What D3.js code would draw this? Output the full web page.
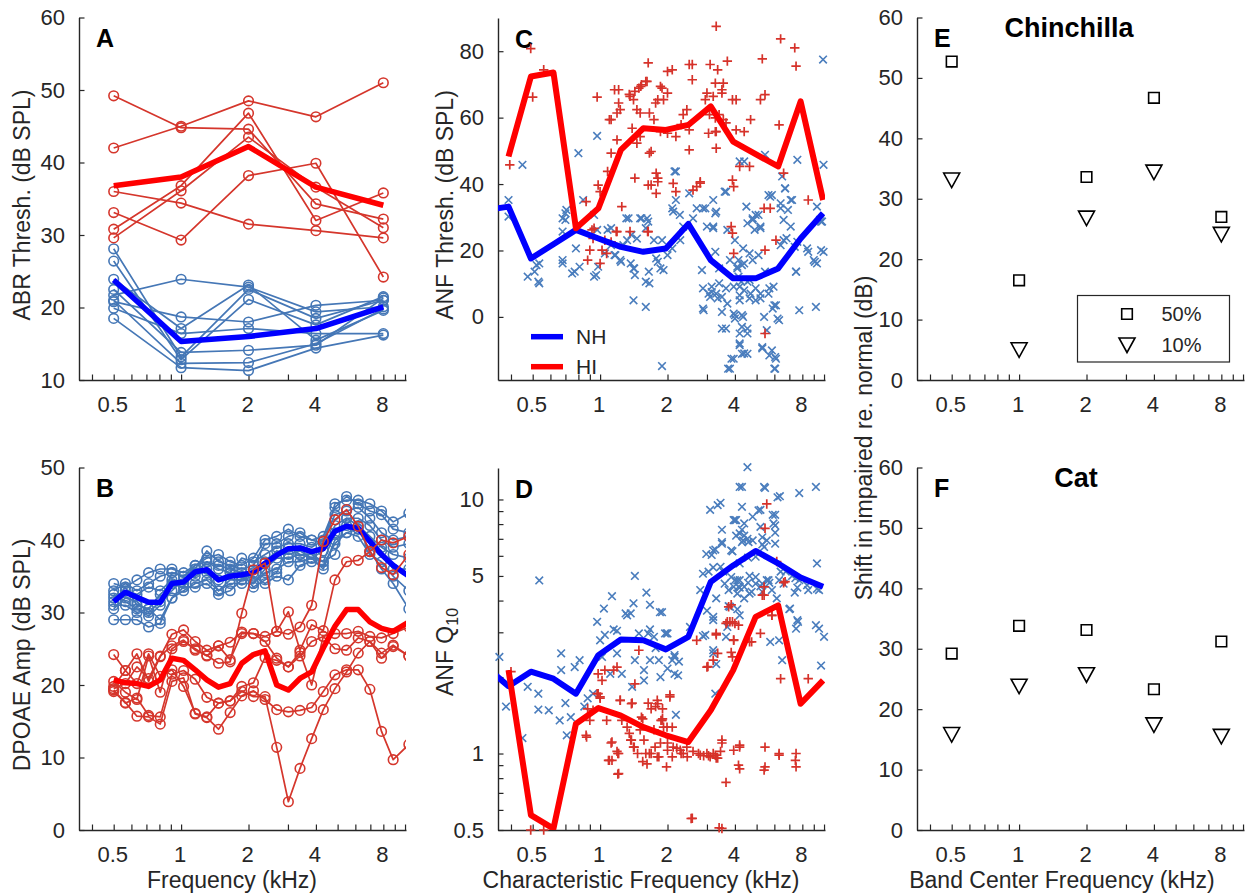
<!DOCTYPE html>
<html><head><meta charset="utf-8">
<script src="https://cdn.jsdelivr.net/npm/d3@7"></script>
<style>
body{margin:0;background:#fff;}
svg{display:block;font-family:"Liberation Sans",Arial,Helvetica,sans-serif;}
</style></head><body>
<svg id="chart" width="1249" height="895"></svg>
<script>
// ---------------- DATA ----------------
const xTickValues = [0.5, 1, 2, 4, 8];
const xMinorTicks = [0.4, 0.6, 0.7, 0.8, 0.9, 3, 5, 6, 7, 9, 10];

// Panel A : ABR thresholds (dB SPL) at 0.5,1,2,4,8 kHz
const abrFreqs = [0.5, 1, 2, 4, 8];
const abrHI = [
  [42.0, 45.0, 48.5, 46.3, 51.0],
  [49.2, 44.8, 44.6, 34.3, 32.2],
  [36.0, 34.4, 31.5, 30.6, 29.6],
  [33.1, 29.3, 38.2, 39.9, 24.2],
  [30.8, 36.8, 46.8, 32.0, 35.8],
  [29.6, 36.1, 43.5, 36.6, 31.0]
];
const abrNH = [
  [28.1, 13.2, 22.5, 18.5, 21.0],
  [26.4, 12.8, 21.1, 17.6, 21.5],
  [23.9, 17.1, 23.1, 15.5, 19.6],
  [21.7, 23.9, 22.8, 19.4, 20.1],
  [20.8, 18.7, 18.0, 20.3, 21.0],
  [19.9, 16.4, 17.1, 16.4, 16.4],
  [18.5, 11.7, 11.3, 14.4, 16.2],
  [22.5, 13.8, 14.1, 14.8, 21.3],
  [21.0, 12.3, 12.4, 15.0, 19.8]
];
const abrHImean = [36.8, 38.0, 42.2, 36.6, 34.1];
const abrNHmean = [23.8, 15.3, 16.0, 17.1, 20.1];

// Panel B : DPOAE amplitude (dB SPL)
const dpFreqs = [0.5, 0.564, 0.635, 0.716, 0.807, 0.910, 1.026, 1.156, 1.303, 1.469, 1.656, 1.866, 2.104,
                 2.371, 2.673, 3.013, 3.396, 3.828, 4.315, 4.864, 5.483, 6.180, 6.966, 7.852, 8.851, 10.4];
const dpNH = [
  [34.0,33.5,34.5,35.5,36.0,36.0,35.5,36.5,37.5,38.0,37.0,36.5,37.5,40.0,40.5,41.5,40.5,40.0,39.5,45.0,45.5,45.5,45.0,44.0,42.5,43.7],
  [33.0,34.0,33.0,34.0,35.0,35.5,35.0,36.0,38.5,37.0,36.5,36.0,36.5,39.5,39.5,40.5,41.0,40.0,40.5,44.5,46.0,45.0,44.0,43.5,41.5,41.0],
  [32.0,33.0,32.5,33.5,33.0,34.5,34.0,35.5,37.0,36.0,35.5,37.5,37.0,38.0,39.0,39.5,39.5,39.0,40.0,43.5,44.0,44.5,43.0,41.0,40.0,40.5],
  [31.5,33.5,31.0,30.5,32.5,34.0,33.5,36.0,35.5,33.0,34.5,34.5,35.5,37.0,38.5,38.0,38.5,37.5,38.5,42.0,43.0,42.0,40.5,39.0,38.0,37.5],
  [30.5,32.0,31.5,30.0,31.5,33.0,34.5,35.0,36.0,34.5,35.5,35.0,34.0,36.0,37.5,37.5,38.0,38.0,37.0,41.0,42.0,41.5,39.5,38.5,36.0,36.0],
  [31.0,31.0,30.0,30.5,29.0,32.0,33.0,34.0,34.5,33.0,34.0,34.0,34.0,35.5,36.0,37.0,37.0,37.5,36.0,40.0,41.0,40.5,38.0,37.0,35.0,33.0],
  [29.0,29.0,29.0,28.0,28.5,32.0,33.5,33.5,34.0,32.5,33.0,34.5,35.0,34.0,35.0,34.5,36.5,37.0,36.5,39.5,41.0,41.5,38.5,36.0,34.0,30.5],
  [32.5,31.5,30.5,29.5,31.0,35.5,35.0,36.5,37.0,36.5,36.0,35.5,33.5,34.5,35.5,39.0,38.0,37.5,37.0,38.0,43.0,43.0,42.0,40.0,39.0,39.5]
];
const dpHI = [
  [24.2,22.0,24.3,20.5,23.9,27.0,27.6,26.0,24.8,25.4,25.9,27.3,27.1,26.7,27.4,27.0,28.0,31.0,39.8,42.8,44.2,41.9,38.4,40.0,39.6,40.5],
  [19.5,20.2,22.5,20.9,24.0,25.4,26.2,24.8,24.1,23.0,23.2,29.9,35.9,36.8,27.4,30.1,24.8,28.3,27.5,34.5,37.0,37.2,38.4,36.2,35.2,38.0],
  [19.3,17.5,18.2,15.8,15.6,21.5,22.0,20.8,18.3,17.5,17.8,19.8,20.3,23.8,23.4,22.5,24.0,26.0,26.7,27.1,27.1,27.4,26.7,26.5,27.1,28.0],
  [20.5,19.0,18.0,24.0,19.0,25.0,26.0,25.0,24.0,25.4,23.5,27.1,27.1,26.0,23.7,22.5,24.5,20.0,26.7,25.0,24.8,26.5,26.0,24.4,25.5,24.0],
  [19.1,17.6,15.7,15.6,14.6,20.5,21.0,16.0,15.5,13.9,16.2,18.5,19.2,18.0,16.6,16.3,16.5,16.9,19.1,21.4,22.1,22.1,19.4,13.6,9.7,11.8],
  [19.8,22.0,20.2,24.3,21.2,22.1,19.8,16.1,15.6,17.5,17.8,19.1,18.4,18.4,11.4,3.9,8.5,12.6,16.6,19.5,21.8,24.4,26.0,23.7,25.3,24.0]
];
const dpNHmean = [31.5,32.8,32.1,31.4,31.4,34.0,34.2,35.6,35.9,34.5,35.0,35.2,35.5,36.8,37.9,38.8,38.9,38.4,38.8,41.2,41.9,41.6,39.8,38.0,36.5,35.0];
const dpHImean = [20.7,20.3,20.2,19.8,20.7,23.7,23.4,22.1,20.7,19.7,20.2,23.0,24.2,24.7,20.0,19.3,20.9,21.8,25.1,28.1,30.4,30.4,28.7,27.8,27.4,28.7];

// Panel C : ANF thresholds [CF kHz, dB SPL]
const anfThrNH = [[0.39,35.2],[0.39,30.2],[0.45,45.8],[0.475,12.1],[0.51,13.6],[0.52,15.6],[0.535,16.1],[0.535,10.1],[0.8,49.3],[0.7,31.2],[0.7,29.2],[0.68,25.7],[0.68,17.1],[0.68,16.1],[0.75,13.1],[0.81,15.1],[0.84,35.2],[0.78,20.6],[0.97,54.5],[0.97,26.2],[0.94,12.1],[0.98,15.1],[1.05,19.1],[1.08,26.2],[1.12,21.6],[1.17,18.6],[1.23,17.1],[1.27,21.6],[1.34,29.7],[1.32,23.1],[1.37,16.1],[1.41,14.6],[1.43,12.6],[1.41,5.0],[1.46,23.6],[1.51,29.7],[1.6,3.0],[1.62,29.7],[1.64,28.7],[1.66,10.1],[1.74,23.1],[1.78,17.6],[1.86,14.6],[1.89,23.1],[1.92,14.1],[2.0,18.6],[2.1,20.6],[2.12,31.7],[2.18,35.2],[2.18,43.8],[2.28,23.1],[2.35,27.2],[2.5,37.2],[1.89,-14.8],[2.85,14.1],[2.9,2.0],[2.95,32.7],[3.0,27.2],[3.05,7.0],[3.15,9.1],[3.2,35.2],[3.27,31.2],[3.2,27.2],[3.27,19.6],[3.3,7.0],[3.5,6.0],[3.5,1.5],[3.65,37.7],[3.7,26.2],[3.7,4.0],[3.65,-3.5],[3.8,17.1],[3.95,9.1],[3.95,1.0],[4.0,-0.5],[4.0,23.1],[3.95,-12.6],[3.8,-15.6],[4.15,12.1],[4.2,9.1],[4.2,5.0],[4.3,0.5],[4.3,-3.0],[4.2,-8.0],[4.3,-11.1],[4.4,8.0],[4.4,16.1],[4.35,20.6],[4.4,46.8],[4.5,33.2],[4.55,-5.0],[4.55,-11.1],[4.65,19.1],[4.7,7.0],[4.8,29.2],[4.9,26.2],[4.95,30.7],[5.1,18.6],[5.2,27.2],[5.2,7.0],[5.3,-9.1],[5.4,0],[5.45,48.8],[5.45,13.6],[5.65,36.7],[5.75,36.2],[5.65,7.0],[5.85,-10.1],[5.95,9.1],[6.05,-12.1],[6.1,3.5],[6.3,-1.0],[6.05,-15.6],[6.4,34.2],[6.5,42.3],[6.6,29.2],[6.6,23.1],[6.7,38.7],[6.9,32.2],[7.2,35.2],[7.1,27.2],[7.4,21.1],[7.5,13.6],[7.6,47.3],[7.75,2.0],[8.5,19.6],[9.0,17.1],[9.2,3.0],[9.3,16.1],[9.6,29.2],[9.7,20.1],[9.9,77.5],[9.95,45.8],[9.7,28.7],[9.3,33.2],[4.1,15.1],[4.15,17.1],[4.8,17.1],[4.65,11.1],[4.95,5.0],[3.1,6.0],[3.4,10.1],[5.55,-4.0],[4.35,0],[4.2,-5.0],
  [0.707,32.2],[0.68,29.7],[0.77,13.6],[0.53,10.6],[0.94,30.7],[1.12,26.7],[1.31,29.7],[1.53,29.7],[1.6,26.7],[1.38,24.7],[1.16,18.6],[1.24,16.6],[1.42,14.6],[1.6,10.6],[1.65,13.6],[1.81,16.6],[0.96,12.6],
  [2.88,2.5],[3.5,-3.5],[3.86,-12.6],[3.73,-15.6],[4.2,-8.5],[4.4,-11],[4.55,-3.5],[5.3,-9.5],[5.7,-11.6],[6.0,-15.6],[6.1,-12.6],[6.2,-0.5],[6.0,3.5],[2.88,8.6],[3.15,7.5],[3.35,5.6],[3.65,8.6],[4.0,0.5],[4.2,6.5],[4.27,10.6],[4.55,10.6],[4.65,5.6],[4.95,8.6],[5.2,5.6],[5.7,8.6],[5.9,2.5],[3.4,14.6],[4.1,14.6],[4.3,15.6],[3.3,31.7],[3.2,26.7],[2.88,32.7],[2.7,32.7],[2.6,29.7],[2.27,30.7],[2.1,32.7],[2.15,43.8],[3.6,37.7],[4.2,46.8],[4.55,28.2],[4.8,29.7],[5.2,26.7],[5.1,30.7],[5.85,36.7],[6.4,32.7],[6.7,38.7],[7.1,35.2],[8.4,20.6],[9.1,16.6],[9.95,19.6],[9.8,28.7],[7.5,13.6],[6.4,21.6],[6.8,23.7],[7.6,22.6]];
const anfThrHI = [[0.49,80.8],[0.56,74.4],[0.5,66.2],[0.395,45.8],[0.97,66.2],[0.866,34.7],[0.98,39.7],[1.0,37.7],[0.92,26.2],[0.93,23.6],[0.9,20.1],[0.88,17.1],[1.0,16.1],[1.02,20.1],[1.05,23.1],[1.07,19.1],[1.12,22.6],[1.18,25.7],[1.25,33.2],[1.36,25.7],[1.64,25.7],[1.08,43.8],[1.12,49.3],[1.12,59.4],[1.19,53.3],[1.19,61.4],[1.21,64.4],[1.21,68.4],[1.23,62.4],[1.36,66.4],[1.39,56.8],[1.41,65.4],[1.43,67.9],[1.46,62.4],[1.49,68.9],[1.51,61.4],[1.53,69.9],[1.62,70.9],[1.64,76.5],[1.66,61.4],[1.51,54.3],[1.46,52.3],[1.43,41.8],[1.66,49.3],[1.74,59.4],[1.77,64.4],[1.92,65.4],[1.89,68.9],[2.0,73.9],[2.1,74.4],[2.0,67.4],[1.86,55.8],[2.0,55.3],[2.18,54.3],[2.12,40.2],[1.78,43.3],[1.81,40.7],[1.78,37.2],[1.64,39.7],[2.18,37.7],[2.44,62.4],[2.35,60.9],[2.5,56.3],[2.5,50.3],[2.58,76.0],[2.58,71.4],[2.7,39.2],[2.8,40.7],[3.1,76.0],[3.0,67.4],[2.95,65.4],[3.2,66.4],[3.27,70.4],[3.3,87.5],[3.35,74.4],[3.55,70.4],[3.5,68.4],[3.7,77.0],[3.05,55.3],[3.27,55.8],[3.3,50.8],[3.27,59.9],[3.9,65.4],[4.05,65.4],[3.55,59.4],[4.05,56.3],[4.4,55.8],[4.7,59.4],[4.2,45.3],[4.65,45.3],[3.9,41.2],[3.95,39.2],[3.85,27.2],[3.9,25.2],[3.95,19.1],[5.2,65.4],[5.45,66.9],[5.3,77.7],[6.4,83.7],[6.3,57.8],[6.6,43.3],[5.4,32.7],[5.75,32.7],[5.45,20.1],[6.1,23.1],[5.45,-5.0],[7.4,81.0],[7.5,75.5],[8.5,35.2],
  [1.1,59.4],[1.16,68.4],[1.35,67.0],[1.52,69.4],[1.6,70.9],[1.81,65.4],[1.86,69.4],[1.69,49.8],[1.69,39.7],[1.81,41.8],[0.94,26.7],[2.5,76.0],[3.5,67.4],[3.3,55.8],[3.08,60.9],[3.4,60.9],[3.65,58.4],[2.6,38.2],[2.8,40.3],[2.3,57.9],[1.19,25.7],[1.63,25.7]];
const anfBandCF = [0.31, 0.39, 0.491, 0.619, 0.78, 0.983, 1.238, 1.56, 1.966, 2.477, 3.12, 3.93, 4.95, 6.24, 7.86, 9.9];
const anfThrNHmean = [32.2, 33.2, 17.6, 21.9, 26.2, 23.6, 21.1, 19.6, 20.6, 28.0, 17.1, 11.6, 11.6, 14.6, 23.6, 31.2];
const anfThrHImean = [null, 48.3, 72.4, 73.6, 26.7, 32.7, 50.3, 56.8, 56.3, 57.8, 63.4, 52.8, 49.0, 45.3, 64.9, 35.2];

// Panel D : ANF Q10 [CF kHz, Q10]
const q10NH = [[0.355,2.4],[0.38,1.53],[0.45,1.15],[0.475,1.83],[0.53,1.72],[0.535,4.8],[0.53,1.49],[0.59,1.48],[0.66,1.35],[0.67,2.48],[0.67,2.13],[0.7,1.58],[0.71,1.18],[0.74,1.39],[0.77,2.19],[0.81,2.33],[0.85,1.53],[0.88,1.65],[0.93,1.72],[0.97,3.3],[1.0,2.79],[1.02,2.4],[1.04,3.72],[1.05,2.93],[1.11,2.06],[1.13,4.16],[1.15,3.08],[1.19,3.04],[1.19,2.48],[1.25,2.06],[1.3,3.56],[1.32,3.5],[1.37,3.56],[1.39,1.83],[1.41,3.9],[1.43,5.0],[1.43,2.33],[1.49,2.97],[1.57,2.13],[1.57,1.94],[1.61,4.3],[1.64,2.97],[1.67,3.85],[1.67,3.08],[1.67,2.33],[1.74,2.88],[1.77,2.6],[1.83,2.33],[1.86,2.0],[1.89,3.6],[1.95,2.97],[2.0,2.97],[2.0,2.16],[2.1,2.33],[2.15,2.44],[2.18,1.42],[2.23,2.03],[2.52,3.15],[2.95,2.93],[3.0,3.65],[3.05,5.2],[3.1,9.1],[3.15,6.05],[3.2,3.35],[3.2,2.55],[3.27,6.35],[3.27,1.72],[3.3,4.08],[3.35,9.5],[3.45,9.7],[3.45,5.43],[3.5,7.6],[3.5,6.7],[3.6,4.66],[3.65,2.88],[3.7,3.15],[3.75,4.4],[3.8,3.78],[3.9,6.25],[3.95,8.3],[4.0,4.81],[4.05,8.3],[4.15,4.53],[4.2,7.35],[4.2,5.6],[4.3,11.2],[4.3,9.36],[4.3,7.6],[4.35,6.9],[4.4,4.08],[4.4,8.05],[4.55,13.4],[4.55,7.0],[4.65,5.0],[4.65,4.26],[4.8,6.9],[4.8,8.55],[4.95,5.95],[5.1,9.05],[5.2,7.8],[5.3,4.33],[5.4,6.5],[5.45,11.1],[5.55,6.9],[5.55,4.81],[5.75,2.75],[5.85,4.4],[5.95,8.05],[6.05,8.7],[6.05,6.7],[6.15,4.08],[6.3,2.79],[6.35,10.3],[6.5,2.33],[6.6,4.66],[7.05,3.72],[7.5,3.1],[7.65,3.3],[7.75,4.81],[7.75,10.6],[8.5,4.4],[9.2,11.2],[9.3,5.6],[9.5,4.4],[9.5,3.1],[9.7,2.22],[10.0,2.88],[3.95,4.53],[4.1,4.26],[4.2,4.81],[4.4,4.53],[4.75,4.33],[4.95,4.66],[5.3,4.66],[5.65,4.81],[6.3,4.81],[6.75,5.2],[7.2,5.0],[7.4,4.3],
  [4.2,11.2],[6.2,10.2],[5.4,11.2],[4.0,8.3],[5.2,9.1],[5.9,8.7],[6.05,7.9],[6.05,7.4],[5.3,7.1],[5.3,6.65],[4.05,7.2],[4.4,7.2],[4.3,6.8],[4.6,6.8],[2.98,6.1],[3.2,6.3],[3.5,6.8],[3.85,6.3],[4.58,5.9],[2.88,5.1],[3.2,5.4],[3.55,5.2],[3.85,4.95],[4.1,4.8],[4.2,4.5],[4.58,4.7],[4.95,4.95],[5.2,4.55],[5.7,4.7],[6.4,5.2],[7.45,4.9],[7.6,4.5],[9.3,4.45],[8.4,4.6],[2.8,4.4],[3.2,3.45],[3.75,3.8],[4.1,3.7],[4.2,3.5],[3.2,2.48],[3.3,2.25],[2.88,2.9],[2.15,2.4],[2.25,2.3],[2.15,2.06],[1.85,3.6],[1.98,2.97],[7.0,3.7],[7.6,3.35],[9.2,3.2]];
const q10HI = [[0.4,2.1],[0.49,0.5],[0.56,0.5],[0.866,1.18],[0.9,1.35],[0.93,1.48],[0.97,1.72],[0.98,2.06],[1.0,1.67],[1.02,1.94],[1.05,2.13],[1.07,1.35],[1.13,1.11],[1.15,2.13],[1.19,2.19],[1.19,1.02],[1.21,1.0],[1.13,0.94],[1.09,0.94],[1.21,0.834],[1.23,1.62],[1.25,1.35],[1.32,1.27],[1.35,1.2],[1.37,1.13],[1.39,1.58],[1.41,1.06],[1.43,1.88],[1.49,2.55],[1.51,1.24],[1.53,1.39],[1.57,1.13],[1.62,0.91],[1.64,1.58],[1.66,1.0],[1.74,1.24],[1.77,1.53],[1.8,1.62],[1.83,0.97],[1.86,1.1],[1.89,1.35],[1.92,1.27],[1.98,0.886],[2.0,1.03],[2.05,1.67],[2.1,1.27],[2.12,1.06],[2.28,1.03],[2.35,1.0],[2.44,1.06],[2.58,0.556],[2.7,2.79],[2.8,0.985],[3.0,1.0],[3.0,2.19],[3.1,0.97],[3.2,2.33],[3.27,0.985],[3.3,2.93],[3.35,0.96],[3.5,1.1],[3.5,0.507],[3.65,0.77],[3.65,3.25],[3.75,3.78],[3.8,3.3],[3.9,2.4],[3.95,2.79],[3.95,1.03],[4.0,3.25],[4.15,0.9],[4.2,1.06],[4.75,2.75],[5.2,2.97],[5.3,4.2],[5.4,4.53],[5.45,1.06],[5.45,0.886],[5.45,7.7],[5.55,9.6],[5.85,3.5],[6.15,5.7],[6.3,0.985],[6.4,1.97],[6.6,4.7],[7.5,1.0],[7.5,0.886],[8.5,1.97],
  [6.7,4.75],[5.4,4.2],[5.85,3.5],[3.85,3.85],[3.7,3.3],[3.9,3.3],[4.15,3.2],[4.65,2.75],[3.95,2.8],[3.85,2.5],[3.3,2.97],[3.35,2.48],[3.03,2.2],[2.05,1.7],[1.9,1.5],[1.9,1.37],[1.99,1.27],[3.5,1.13],[4.2,1.08],[6.3,1.0],[7.45,0.94],[5.4,0.86],[4.2,0.87],[2.55,0.555],[3.4,0.51],[2.3,1.0],[2.45,0.97],[2.6,1.02],[2.75,1.0],[2.9,0.98],[3.05,0.98],[3.2,1.0],[3.3,0.96],[3.45,1.02],[2.2,1.05],[2.0,1.1],[2.1,0.97],
  [0.98,1.72],[1.0,1.65],[0.88,1.5],[0.87,1.16],[1.23,1.62],[1.38,1.57],[1.55,1.37],[1.69,1.5],[1.81,1.57],[1.87,1.35],[1.12,1.1],[1.2,1.0],[1.1,0.94],[1.2,0.83],[1.38,1.13],[1.42,1.06],[1.47,1.0],[1.6,1.0],[1.55,0.93],[1.69,1.0],[1.8,0.97],[1.76,1.06]];
const q10NHmean = [2.19, 1.84, 2.1, 1.97, 1.72, 2.44, 2.81, 2.79, 2.57, 2.88, 4.74, 5.5, 6.27, 5.6, 4.93, 4.53];
const q10HImean = [null, 2.13, 0.572, 0.506, 1.31, 1.51, 1.41, 1.27, 1.18, 1.11, 1.48, 2.13, 3.45, 3.83, 1.57, 1.94];

// Panels E, F : shift in impaired re. normal (dB)
const bandCenters = [0.5, 1, 2, 4, 8];
const chinShift50 = [52.7, 16.5, 33.6, 46.7, 27.0];
const chinShift10 = [33.1, 5.0, 26.8, 34.4, 24.1];
const catShift50 = [29.2, 33.8, 33.1, 23.3, 31.2];
const catShift10 = [15.8, 23.8, 25.7, 17.4, 15.5];

// ---------------- DRAWING ----------------
const TXT = "#262626";
const BLUE_I = "#4577b6", RED_I = "#d5362c";
const BLUE_M = "#0000ff", RED_M = "#ff0000";
const SC_BLUE = "#4a7dbd", SC_RED = "#d6322a";
const FONT = '"Liberation Sans", Arial, Helvetica, sans-serif';
const X_DOM = [0.35, 10.1];
const svg = d3.select("#chart");
const defs = svg.append("defs");

function panel(p) {
  const x = d3.scaleLog().domain(X_DOM).range([p.x0, p.x1]);
  const y = (p.log ? d3.scaleLog() : d3.scaleLinear()).domain(p.yDom).range([p.y1, p.y0]);
  const g = svg.append("g");
  defs.append("clipPath").attr("id", "clip" + p.name).append("rect")
    .attr("x", p.x0).attr("y", p.y0).attr("width", p.x1 - p.x0).attr("height", p.y1 - p.y0);
  const ax = g.append("g").attr("transform", `translate(0,${p.y1})`);
  ax.call(d3.axisBottom(x).tickValues(xTickValues).tickFormat(d => String(d))
    .tickSizeInner(-5.5).tickSizeOuter(0).tickPadding(16));
  ax.append("g").call(d3.axisBottom(x).tickValues(xMinorTicks).tickFormat("")
    .tickSizeInner(-5.5).tickSizeOuter(0)).select(".domain").remove();
  ax.selectAll("text").attr("dx", "-1.5");
  const ay = g.append("g").attr("transform", `translate(${p.x0},0)`);
  ay.call(d3.axisLeft(y).tickValues(p.yTicks).tickFormat(d => String(d))
    .tickSizeInner(-5.5).tickSizeOuter(0).tickPadding(14));
  if (p.yMinor) ay.append("g").call(d3.axisLeft(y).tickValues(p.yMinor).tickFormat("")
    .tickSizeInner(-5.5).tickSizeOuter(0)).select(".domain").remove();
  [ax, ay].forEach(a => {
    a.attr("font-family", FONT).attr("font-size", 22);
    a.selectAll(".domain").attr("stroke", TXT).attr("stroke-width", 1.4);
    a.selectAll(".tick line").attr("stroke", TXT).attr("stroke-width", 1.2);
    a.selectAll(".tick text").attr("fill", TXT);
  });
  const plot = g.append("g").attr("clip-path", `url(#clip${p.name})`);
  const free = g.append("g");
  free.append("text").attr("x", p.x0 + 17).attr("y", p.y0 + 29.5)
    .attr("font-family", FONT).attr("font-weight", "bold").attr("font-size", 25)
    .attr("fill", "#000").text(p.name);
  return { x, y, plot, free, g, name: p.name };
}

function yLabel(x, y, txt, sub) {
  const t = svg.append("text").attr("transform", `translate(${x},${y}) rotate(-90)`)
    .attr("text-anchor", "middle").attr("font-family", FONT).attr("font-size", 23).attr("fill", TXT).text(txt);
  if (sub) t.append("tspan").attr("font-size", 16).attr("dy", 5).text(sub);
}
function xLabel(x, y, txt) {
  svg.append("text").attr("x", x).attr("y", y).attr("text-anchor", "middle")
    .attr("font-family", FONT).attr("font-size", 23).attr("fill", TXT).text(txt);
}

const lineGen = (P) => d3.line().defined(d => d[1] != null).x(d => P.x(d[0])).y(d => P.y(d[1]));
const zip = (fs, vs) => fs.map((f, i) => [f, vs[i]]);

function drawCurves(P, freqs, rows, color, width, circles, r) {
  rows.forEach(row => {
    const pts = zip(freqs, row);
    P.plot.append("path").attr("d", lineGen(P)(pts)).attr("fill", "none")
      .attr("stroke", color).attr("stroke-width", width).attr("stroke-linejoin", "round");
    if (circles) P.plot.selectAll(null).data(pts).join("circle")
      .attr("cx", d => P.x(d[0])).attr("cy", d => P.y(d[1])).attr("r", r)
      .attr("fill", "none").attr("stroke", color).attr("stroke-width", 1.6);
  });
}

// ---- Panel A ----
const A = panel({ name: "A", x0: 79, x1: 406, y0: 17.5, y1: 380, yDom: [10, 60], yTicks: [10, 20, 30, 40, 50, 60] });
drawCurves(A, abrFreqs, abrNH, BLUE_I, 1.7, true, 4.8);
drawCurves(A, abrFreqs, [abrNHmean], BLUE_M, 5.5, false);
drawCurves(A, abrFreqs, abrHI, RED_I, 1.7, true, 4.8);
drawCurves(A, abrFreqs, [abrHImean], RED_M, 5.5, false);
yLabel(30, 205, "ABR Thresh. (dB SPL)");

// ---- Panel B ----
const B = panel({ name: "B", x0: 79, x1: 406, y0: 467.5, y1: 830, yDom: [0, 50], yTicks: [0, 10, 20, 30, 40, 50] });
drawCurves(B, dpFreqs, dpNH, BLUE_I, 1.7, true, 4.8);
drawCurves(B, dpFreqs, [dpNHmean], BLUE_M, 5.5, false);
drawCurves(B, dpFreqs, dpHI, RED_I, 1.7, true, 4.8);
drawCurves(B, dpFreqs, [dpHImean], RED_M, 5.5, false);
yLabel(30, 655, "DPOAE Amp (dB SPL)");
xLabel(232, 888, "Frequency (kHz)");

function crosses(P, data, color) {
  P.free.selectAll(null).data(data).join("path")
    .attr("transform", d => `translate(${P.x(d[0])},${P.y(d[1])})`)
    .attr("d", "M-3.8,-3.8L3.8,3.8M-3.8,3.8L3.8,-3.8")
    .attr("stroke", color).attr("stroke-width", 1.6).attr("fill", "none");
}
function pluses(P, data, color) {
  P.free.selectAll(null).data(data).join("path")
    .attr("transform", d => `translate(${P.x(d[0])},${P.y(d[1])})`)
    .attr("d", "M-4.7,0H4.7M0,-4.7V4.7")
    .attr("stroke", color).attr("stroke-width", 1.7).attr("fill", "none");
}
function meanLines(P, freqs, nh, hi) {
  const top = P.g.append("g").attr("clip-path", `url(#clip${P.name})`);
  [[nh, BLUE_M], [hi, RED_M]].forEach(([vals, col]) => {
    top.append("path").attr("d", lineGen(P)(zip(freqs, vals))).attr("fill", "none")
      .attr("stroke", col).attr("stroke-width", 6).attr("stroke-linejoin", "round");
  });
}

// ---- Panel C ----
const C = panel({ name: "C", x0: 498, x1: 825, y0: 18, y1: 380, yDom: [-19, 90], yTicks: [0, 20, 40, 60, 80] });
crosses(C, anfThrNH, SC_BLUE);
pluses(C, anfThrHI, SC_RED);
meanLines(C, anfBandCF, anfThrNHmean, anfThrHImean);
[["NH", BLUE_M, 336.7], ["HI", RED_M, 366.7]].forEach(([lab, col, yy]) => {
  C.g.append("line").attr("x1", 531).attr("x2", 563).attr("y1", yy).attr("y2", yy)
    .attr("stroke", col).attr("stroke-width", 5.5);
  C.g.append("text").attr("x", 576).attr("y", yy).attr("dy", "0.36em")
    .attr("font-family", FONT).attr("font-size", 21).attr("fill", TXT).text(lab);
});
yLabel(453, 205, "ANF Thresh. (dB SPL)");

// ---- Panel D ----
const D = panel({ name: "D", x0: 498, x1: 825, y0: 468, y1: 830, log: true, yDom: [0.5, 13.3],
  yTicks: [0.5, 1, 5, 10], yMinor: [0.6, 0.7, 0.8, 0.9, 2, 3, 4, 6, 7, 8, 9] });
crosses(D, q10NH, SC_BLUE);
pluses(D, q10HI, SC_RED);
meanLines(D, anfBandCF, q10NHmean, q10HImean);
yLabel(453, 652, "ANF Q", "10");
xLabel(641, 888, "Characteristic Frequency (kHz)");

// ---- Panels E, F ----
const SQ = "M-5.3,-5.3H5.3V5.3H-5.3Z";
const TRI = "M-8,-7H8L0,7.5Z";
function shiftPanel(P, s50, s10, title, tx, ty) {
  P.free.selectAll(null).data(zip(bandCenters, s50)).join("path")
    .attr("transform", d => `translate(${P.x(d[0])},${P.y(d[1])})`).attr("d", SQ)
    .attr("fill", "none").attr("stroke", "#000").attr("stroke-width", 1.6);
  P.free.selectAll(null).data(zip(bandCenters, s10)).join("path")
    .attr("transform", d => `translate(${P.x(d[0])},${P.y(d[1])})`).attr("d", TRI)
    .attr("fill", "none").attr("stroke", "#000").attr("stroke-width", 1.6);
  P.free.append("text").attr("x", tx).attr("y", ty).attr("text-anchor", "middle")
    .attr("font-family", FONT).attr("font-weight", "bold").attr("font-size", 27).attr("fill", "#000").text(title);
}
const E = panel({ name: "E", x0: 917, x1: 1244, y0: 17.5, y1: 380, yDom: [0, 60], yTicks: [0, 10, 20, 30, 40, 50, 60] });
shiftPanel(E, chinShift50, chinShift10, "Chinchilla", 1069, 36.5);
E.free.append("rect").attr("x", 1077.5).attr("y", 295.5).attr("width", 152).attr("height", 66.5)
  .attr("fill", "#fff").attr("stroke", TXT).attr("stroke-width", 1.2);
E.free.append("path").attr("transform", "translate(1127,314)").attr("d", SQ)
  .attr("fill", "none").attr("stroke", "#000").attr("stroke-width", 1.6);
E.free.append("path").attr("transform", "translate(1127,345)").attr("d", TRI)
  .attr("fill", "none").attr("stroke", "#000").attr("stroke-width", 1.6);
[["50%", 314], ["10%", 345]].forEach(([t, yy]) => {
  E.free.append("text").attr("x", 1161.5).attr("y", yy).attr("dy", "0.36em")
    .attr("font-family", FONT).attr("font-size", 20).attr("fill", TXT).text(t);
});
const F = panel({ name: "F", x0: 917, x1: 1244, y0: 467.5, y1: 830, yDom: [0, 60], yTicks: [0, 10, 20, 30, 40, 50, 60] });
shiftPanel(F, catShift50, catShift10, "Cat", 1076, 486.5);
yLabel(872, 438, "Shift in impaired re. normal (dB)");
xLabel(1062, 888, "Band Center Frequency (kHz)");
</script></body></html>
